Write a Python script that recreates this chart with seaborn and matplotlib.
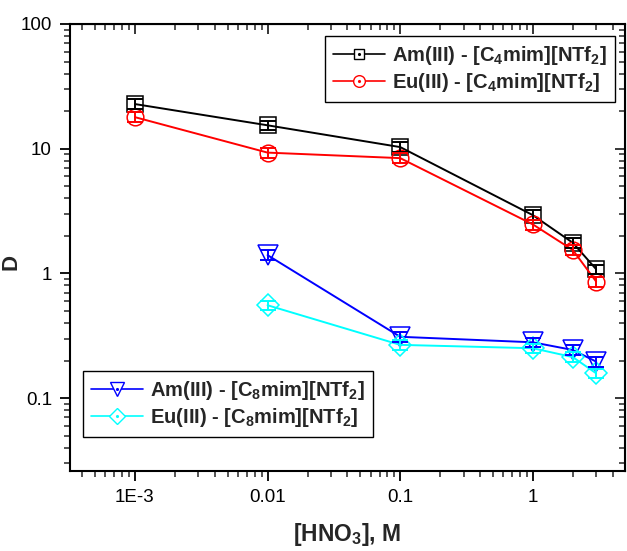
import matplotlib
matplotlib.use('Agg')
import matplotlib.pyplot as plt
from matplotlib.lines import Line2D
from matplotlib.ticker import FixedLocator, LogLocator, NullFormatter
import numpy as np
import pandas as pd
import seaborn as sns

# concentração de HNO3 (M)
hno3_c4 = [1e-3, 0.01, 0.1, 1, 2, 3]
hno3_c8 = [0.01, 0.1, 1, 2, 3]

am_c4 = [22.8, 15.4, 10.3, 2.93, 1.76, 1.08]
eu_c4 = [17.9, 9.3, 8.4, 2.47, 1.54, 0.86]
am_c8 = [1.40, 0.31, 0.28, 0.243, 0.196]
eu_c8 = [0.555, 0.267, 0.251, 0.213, 0.158]

# erros relativos estimados
rel_err = 0.09

labels = [r'Am(III) - [C$_4$mim][NTf$_2$]',
          r'Eu(III) - [C$_4$mim][NTf$_2$]',
          r'Am(III) - [C$_8$mim][NTf$_2$]',
          r'Eu(III) - [C$_8$mim][NTf$_2$]']

xtick_vals = [1e-3, 0.01, 0.1, 1]
xtick_labels = ['1E-3', '0.01', '0.1', '1']
ytick_vals = [0.1, 1, 10, 100]
ytick_labels = ['0.1', '1', '10', '100']

sns.set_style('ticks')
plt.rcParams['font.family'] = ['Liberation Sans', 'DejaVu Sans']
plt.rcParams['mathtext.fontset'] = 'custom'
plt.rcParams['mathtext.rm'] = 'Liberation Sans:bold'
plt.rcParams['mathtext.bf'] = 'Liberation Sans:bold'
plt.rcParams['mathtext.default'] = 'bf'

series = [
    (hno3_c4, am_c4, labels[0], 'black', 's', 11),
    (hno3_c4, eu_c4, labels[1], '#ff0000', 'o', 12),
    (hno3_c8, am_c8, labels[2], '#0000ff', 'v', 14),
    (hno3_c8, eu_c8, labels[3], '#00ffff', 'D', 11),
]

fig = plt.figure(figsize=(6.27, 5.51), dpi=100)
ax = fig.add_axes([70 / 627, 80 / 551, 555 / 627, 447 / 551])

handles = []
for x, y, lab, col, mk, ms in series:
    df = pd.DataFrame({'x': x, 'y': y})
    sns.lineplot(data=df, x='x', y='y', ax=ax, color=col, lw=1.4,
                 marker=mk, markersize=ms, mfc='none', mec=col, mew=1.1,
                 legend=False, zorder=3)
    y_arr = np.array(y)
    ax.errorbar(x, y_arr, yerr=rel_err * y_arr, fmt='none', ecolor=col,
                elinewidth=1.4, capsize=6, capthick=1.4, zorder=4)
    h_line = Line2D([], [], color=col, lw=1.2, marker=mk, markersize=ms * 0.7,
                    mfc='white', mec=col, mew=1.0)
    h_dot = Line2D([], [], color=col, lw=0, marker='.', markersize=2.5)
    handles.append((h_line, h_dot))

ax.set_xscale('log')
ax.set_yscale('log')
ax.set_xlim(3.24e-4, 4.95)
ax.set_ylim(0.026, 100)

ax.xaxis.set_major_locator(FixedLocator(xtick_vals))
ax.set_xticklabels(xtick_labels)
ax.yaxis.set_major_locator(FixedLocator(ytick_vals))
ax.set_yticklabels(ytick_labels)
ax.xaxis.set_minor_locator(LogLocator(base=10, subs=np.arange(2, 10), numticks=20))
ax.yaxis.set_minor_locator(LogLocator(base=10, subs=np.arange(2, 10), numticks=20))
ax.xaxis.set_minor_formatter(NullFormatter())
ax.yaxis.set_minor_formatter(NullFormatter())

ax.tick_params(which='major', direction='out', length=7, width=1.3, labelsize=13.5,
               colors='black', pad=6)
ax.tick_params(which='minor', direction='out', length=4, width=1.1)
for sp in ax.spines.values():
    sp.set_linewidth(1.5)
    sp.set_color('black')

# eixos espelhados com ticks para dentro
axt = ax.secondary_xaxis('top')
axt.tick_params(which='major', direction='in', length=7, width=1.3, labeltop=False)
axt.tick_params(which='minor', direction='in', length=4, width=1.1)
axt.xaxis.set_major_locator(FixedLocator(xtick_vals))
axt.xaxis.set_minor_locator(LogLocator(base=10, subs=np.arange(2, 10), numticks=20))
axt.xaxis.set_major_formatter(NullFormatter())
axt.xaxis.set_minor_formatter(NullFormatter())
axr = ax.secondary_yaxis('right')
axr.tick_params(which='major', direction='in', length=7, width=1.3, labelright=False)
axr.tick_params(which='minor', direction='in', length=4, width=1.1)
axr.yaxis.set_major_locator(FixedLocator(ytick_vals))
axr.yaxis.set_minor_locator(LogLocator(base=10, subs=np.arange(2, 10), numticks=20))
axr.yaxis.set_major_formatter(NullFormatter())
axr.yaxis.set_minor_formatter(NullFormatter())

ax.set_xlabel(r'[HNO$_3$], M', fontsize=16.5, fontweight='bold')
ax.xaxis.set_label_coords(0.5, -0.112)
ax.set_ylabel('D', fontsize=16, fontweight='bold')
ax.yaxis.set_label_coords(-0.087, 0.467)

leg_kw = dict(frameon=True, fancybox=False, edgecolor='black',
              framealpha=1, handlelength=2.6, handletextpad=0.35,
              borderaxespad=0, borderpad=0.4, labelspacing=0.2,
              prop={'weight': 'bold', 'size': 14.5})
leg1 = ax.legend(handles[:2], labels[:2], loc='upper right',
                 bbox_to_anchor=(0.982, 0.973), **leg_kw)
leg1.get_frame().set_linewidth(1.0)
ax.add_artist(leg1)
leg2 = ax.legend(handles[2:], labels[2:], loc='lower left',
                 bbox_to_anchor=(0.0234, 0.076), **leg_kw)
leg2.get_frame().set_linewidth(1.0)

fig.savefig('out.png', dpi=100)
plt.close(fig)
